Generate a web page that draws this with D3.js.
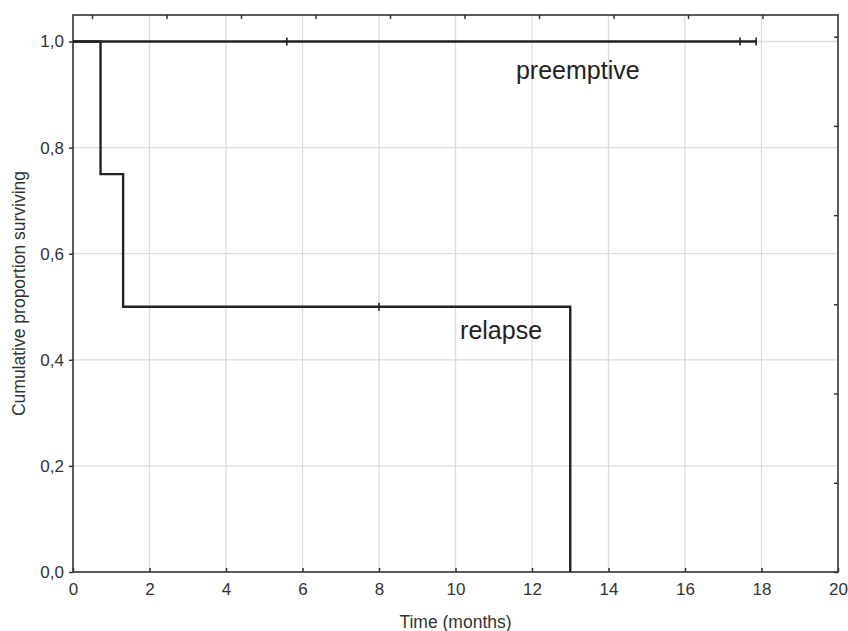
<!DOCTYPE html>
<html>
<head>
<meta charset="utf-8">
<script src="https://cdn.jsdelivr.net/npm/d3@7"></script>
<style>
  body { margin: 0; background: #fff; }
  svg { font-family: "Liberation Sans", Arial, sans-serif; }
</style>
</head>
<body>
<svg width="848" height="631"></svg>
<script>
// Kaplan-Meier steps
const preemptiveTimes = [0, 17.86];
const preemptiveSurv = [1.0, 1.0];
const preemptiveCensored = [5.59, 17.44, 17.86];

const relapseTimes = [0, 0.72, 1.31, 13.0];
const relapseSurv = [1.0, 0.75, 0.5, 0.0];
const relapseCensored = [8.0];

const xTicks = [0, 2, 4, 6, 8, 10, 12, 14, 16, 18, 20];
const yTicks = [0, 0.2, 0.4, 0.6, 0.8, 1.0];

const margin = {top: 15, right: 10, bottom: 59, left: 73};
const W = 848, H = 631;
const svg = d3.select("svg");

const x = d3.scaleLinear().domain([0, 20]).range([margin.left, W - margin.right]);
const y = d3.scaleLinear().domain([0, 1.05]).range([H - margin.bottom, margin.top]);
// secondary (unlabelled) scales drawn on the top and right frame
const xTop = d3.scaleLinear().domain([-0.255, 10.013]).range([margin.left, W - margin.right]);
const yRight = d3.scaleLinear().domain([0, 6.243]).range([H - margin.bottom, margin.top]);

// grid
svg.append("g")
  .selectAll("line")
  .data(xTicks.slice(1, -1))
  .join("line")
  .attr("x1", d => x(d)).attr("x2", d => x(d))
  .attr("y1", y(0)).attr("y2", y(1.05))
  .attr("stroke", "#dcdcdc").attr("stroke-width", 1.3);

svg.append("g")
  .selectAll("line")
  .data(yTicks.slice(1))
  .join("line")
  .attr("x1", x(0)).attr("x2", x(20))
  .attr("y1", d => y(d)).attr("y2", d => y(d))
  .attr("stroke", "#dcdcdc").attr("stroke-width", 1.3);

// axes
const xAxis = svg.append("g")
  .attr("transform", `translate(0,${y(0)})`)
  .call(d3.axisBottom(x).tickValues(xTicks).tickSizeInner(-4).tickSizeOuter(0).tickPadding(11));

const yAxis = svg.append("g")
  .attr("transform", `translate(${x(0)},0)`)
  .call(d3.axisLeft(y).tickValues(yTicks).tickSizeInner(4).tickSizeOuter(0).tickPadding(5)
    .tickFormat(d => d3.format(".1f")(d).replace(".", ",")));

svg.append("g")
  .attr("transform", `translate(0,${y(1.05)})`)
  .call(d3.axisBottom(xTop).tickValues(d3.range(0, 10)).tickSize(4).tickFormat(""))
  .select(".domain").remove();

svg.append("g")
  .attr("transform", `translate(${x(20)},0)`)
  .call(d3.axisLeft(yRight).tickValues(d3.range(0, 7)).tickSize(4).tickFormat(""))
  .select(".domain").remove();

svg.selectAll(".tick line").attr("stroke", "#333").attr("stroke-width", 1.5);
[xAxis, yAxis].forEach(a => {
  a.select(".domain").remove();
  a.selectAll("text").attr("font-size", 17).attr("fill", "#333")
    .attr("font-family", "'Liberation Sans', Arial, sans-serif");
});

// frame
svg.append("rect")
  .attr("x", x(0)).attr("y", y(1.05))
  .attr("width", x(20) - x(0)).attr("height", y(0) - y(1.05))
  .attr("fill", "none").attr("stroke", "#333").attr("stroke-width", 1.6);

// curves
const step = d3.line().x(d => x(d[0])).y(d => y(d[1])).curve(d3.curveStepAfter);

function drawCurve(times, surv, censored) {
  const pts = times.map((t, i) => [t, surv[i]]);
  svg.append("path")
    .datum(pts)
    .attr("d", step)
    .attr("fill", "none")
    .attr("stroke", "#222")
    .attr("stroke-width", 2.4);
  const survAt = t => surv[d3.bisectRight(times, t) - 1];
  svg.append("g")
    .selectAll("line")
    .data(censored)
    .join("line")
    .attr("x1", d => x(d)).attr("x2", d => x(d))
    .attr("y1", d => y(survAt(d)) - 4).attr("y2", d => y(survAt(d)) + 4)
    .attr("stroke", "#222").attr("stroke-width", 1.6);
}

drawCurve(preemptiveTimes, preemptiveSurv, preemptiveCensored);
drawCurve(relapseTimes, relapseSurv, relapseCensored);

// curve labels
svg.append("text")
  .attr("x", x(11.58)).attr("y", 79)
  .attr("font-size", 25).attr("fill", "#222")
  .text("preemptive");

svg.append("text")
  .attr("x", x(10.12)).attr("y", 339)
  .attr("font-size", 25).attr("fill", "#222")
  .text("relapse");

// axis titles
svg.append("text")
  .attr("x", (x(0) + x(20)) / 2).attr("y", 628)
  .attr("text-anchor", "middle")
  .attr("font-size", 17.5).attr("fill", "#333")
  .text("Time (months)");

svg.append("text")
  .attr("transform", `translate(25,${(y(0) + y(1.05)) / 2}) rotate(-90)`)
  .attr("text-anchor", "middle")
  .attr("font-size", 17.5).attr("fill", "#333")
  .text("Cumulative proportion surviving");
</script>
</body>
</html>
